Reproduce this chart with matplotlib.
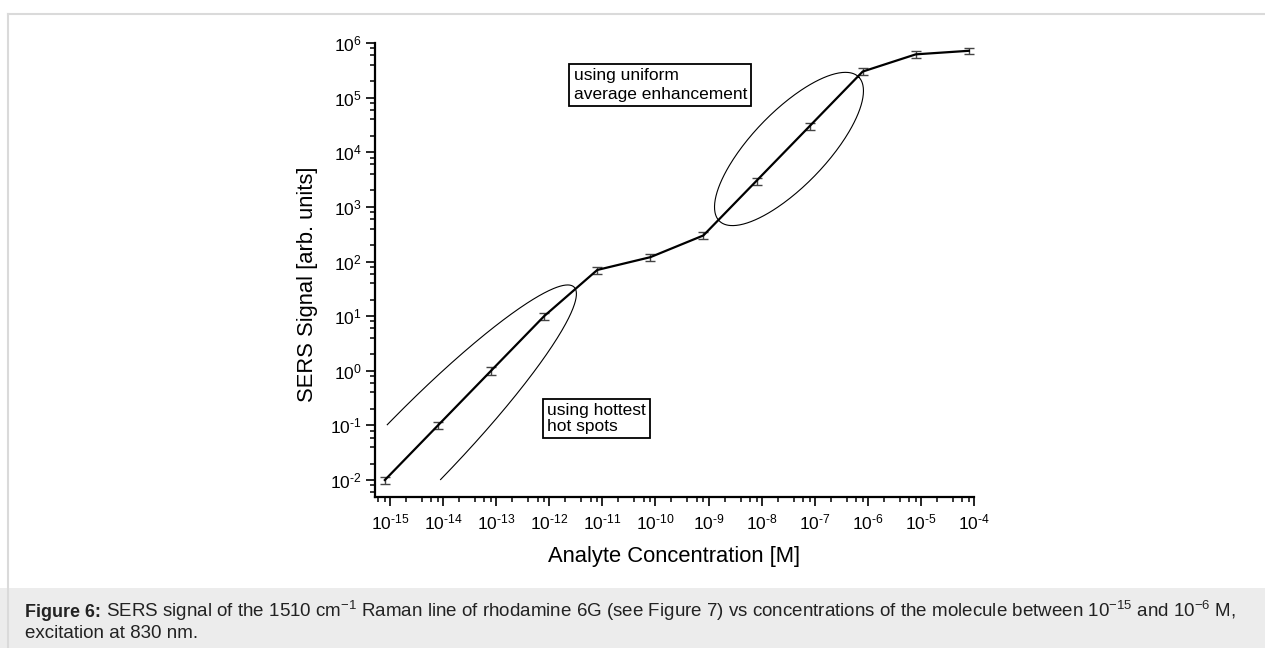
import numpy as np
import matplotlib
matplotlib.use("Agg")
import matplotlib.pyplot as plt
from matplotlib.lines import Line2D
from matplotlib.patches import Rectangle
from matplotlib.ticker import LogLocator, FuncFormatter, NullFormatter

plt.rcParams['font.family'] = ['Liberation Sans', 'DejaVu Sans']
plt.rcParams['mathtext.fontset'] = 'custom'
plt.rcParams['mathtext.rm'] = 'Liberation Sans'
plt.rcParams['mathtext.it'] = 'Liberation Sans:italic'
plt.rcParams['mathtext.bf'] = 'Liberation Sans:bold'

# data
conc = [8e-16, 8e-15, 8e-14, 8e-13, 8e-12, 8e-11, 8e-10, 8e-9, 8e-8, 8e-7, 8e-6, 8e-5]
signal = [0.01, 0.1, 1, 10, 70, 120, 300, 3000, 30000, 300000, 620000, 720000]
err = [0.0015, 0.015, 0.15, 1.5, 10, 17, 45, 450, 4500, 45000, 90000, 100000]

# ellipses marking the two regimes (log10 coords: center, semi axes, angle)
hot_center = (-14.55, -1.49)
hot_axes = (4.27, 0.71)
unif_center = (-7.485, 4.06)
unif_axes = (1.86, 0.69)

W, H = 1265, 648
fig = plt.figure(figsize=(W / 100, H / 100), dpi=100)

# caption band and page frame
fig.add_artist(Rectangle((0, 0), 1, 60 / H, transform=fig.transFigure,
                         facecolor='#ececec', edgecolor='none', zorder=0))
fig.add_artist(Line2D([8 / W, 1], [1 - 14 / H, 1 - 14 / H], transform=fig.transFigure,
                      color='#dadada', lw=1.5))
fig.add_artist(Line2D([8 / W, 8 / W], [0, 1 - 14 / H], transform=fig.transFigure,
                      color='#dadada', lw=1.5))

ax = fig.add_axes([375 / W, 1 - 497 / H, (974 - 375) / W, (497 - 43) / H])
ax.set_xscale('log')
ax.set_yscale('log')
ax.set_xlim(10 ** -15.283, 1e-4)
ax.set_ylim(10 ** -2.311, 1e6)

ax.errorbar(conc, signal, yerr=err, color='k', lw=1.6, ecolor='#444444',
            elinewidth=1, capsize=3.5, capthick=1, zorder=3)


def ellipse(center, axes_, start, stop):
    t = np.linspace(start, stop, 300)
    a, b = axes_
    ang = np.deg2rad(45)
    u = a * np.cos(t)
    v = b * np.sin(t)
    lx = center[0] + u * np.cos(ang) - v * np.sin(ang)
    ly = center[1] + u * np.sin(ang) + v * np.cos(ang)
    ax.plot(10 ** lx, 10 ** ly, color='k', lw=0.8)


ellipse(hot_center, hot_axes, -np.pi / 2, np.pi / 2)
ellipse(unif_center, unif_axes, 0, 2 * np.pi)

box = dict(boxstyle='square,pad=0.25', facecolor='white', edgecolor='k', lw=1.3)
ax.text(0.3314, 0.9075, 'using uniform\naverage enhancement', transform=ax.transAxes,
        fontsize=12.5, ha='left', va='center', bbox=box, linespacing=1.35)
ax.text(0.287, 0.1729, 'using hottest\nhot spots', transform=ax.transAxes,
        fontsize=12.5, ha='left', va='center', bbox=box, linespacing=1.1)

for s in ['top', 'right']:
    ax.spines[s].set_visible(False)
for s in ['left', 'bottom']:
    ax.spines[s].set_linewidth(1.6)

fmt = FuncFormatter(lambda v, p: r'$\mathregular{10^{\text{%d}}}$' % round(np.log10(v)))
ax.xaxis.set_major_locator(LogLocator(base=10, numticks=20))
ax.yaxis.set_major_locator(LogLocator(base=10, numticks=20))
ax.xaxis.set_minor_locator(LogLocator(base=10, subs=[2, 4, 6, 8], numticks=20))
ax.yaxis.set_minor_locator(LogLocator(base=10, subs=[2, 4, 6, 8], numticks=20))
ax.xaxis.set_major_formatter(fmt)
ax.yaxis.set_major_formatter(fmt)
ax.xaxis.set_minor_formatter(NullFormatter())
ax.yaxis.set_minor_formatter(NullFormatter())
ax.tick_params(which='major', length=6.3, width=1.2, labelsize=12.5)
ax.tick_params(which='minor', length=3.8, width=1.1)
ax.tick_params(axis='x', which='major', pad=5)
ax.tick_params(axis='y', which='major', pad=3)

ax.set_xlabel('Analyte Concentration [M]', fontsize=15.8)
ax.set_ylabel('SERS Signal [arb. units]', fontsize=15.8, va='center')
ax.xaxis.set_label_coords(0.499, -0.132)
ax.xaxis.label.set_va('center')
ax.yaxis.set_label_coords(-0.112, 0.468)

# caption
cap_y1 = 1 - 617 / H
cap_y2 = 1 - 638 / H
t1 = fig.text(25 / W, cap_y1, 'Figure 6:', fontsize=12.9, fontweight='bold',
              va='baseline', color='#222222')
fig.canvas.draw()
bb = t1.get_window_extent(fig.canvas.get_renderer())
fig.text(bb.x1 / W + 5 / W, cap_y1,
         r'SERS signal of the 1510 cm$^{-1}$ Raman line of rhodamine 6G (see Figure 7) '
         r'vs concentrations of the molecule between 10$^{-15}$ and 10$^{-6}$ M,',
         fontsize=13.5, va='baseline', color='#222222')
fig.text(25 / W, cap_y2, 'excitation at 830 nm.', fontsize=13.5, va='baseline',
         color='#222222')

plt.savefig('out.png', dpi=100)
